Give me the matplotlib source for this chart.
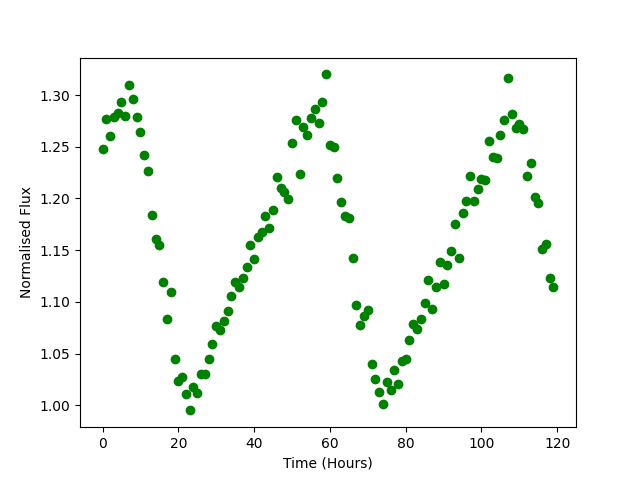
import numpy as np
import matplotlib
matplotlib.use('Agg')
from matplotlib import pyplot as plt

# hourly normalised flux
flux = [1.248, 1.277, 1.260, 1.279, 1.283, 1.293, 1.280, 1.310, 1.296, 1.279,
        1.264, 1.242, 1.227, 1.184, 1.161, 1.155, 1.119, 1.083, 1.110, 1.045,
        1.023, 1.027, 1.011, 0.995, 1.018, 1.012, 1.030, 1.030, 1.045, 1.059,
        1.077, 1.073, 1.081, 1.091, 1.106, 1.119, 1.114, 1.123, 1.134, 1.155,
        1.141, 1.163, 1.168, 1.183, 1.171, 1.189, 1.221, 1.210, 1.206, 1.199,
        1.254, 1.276, 1.224, 1.269, 1.261, 1.278, 1.287, 1.273, 1.293, 1.320,
        1.252, 1.250, 1.220, 1.197, 1.183, 1.181, 1.142, 1.097, 1.078, 1.086,
        1.092, 1.040, 1.025, 1.013, 1.001, 1.022, 1.015, 1.034, 1.021, 1.043,
        1.045, 1.063, 1.079, 1.074, 1.083, 1.099, 1.121, 1.093, 1.114, 1.139,
        1.117, 1.136, 1.149, 1.175, 1.142, 1.186, 1.198, 1.222, 1.198, 1.209,
        1.219, 1.218, 1.256, 1.240, 1.239, 1.261, 1.276, 1.317, 1.282, 1.268,
        1.272, 1.267, 1.222, 1.234, 1.201, 1.196, 1.151, 1.156, 1.123, 1.114]
hours = np.arange(len(flux))

plt.figure(figsize=(6.4, 4.8), dpi=100)
plt.plot(hours, flux, 'go')
plt.xlabel('Time (Hours)')
plt.ylabel('Normalised Flux')
plt.savefig('out.png')
